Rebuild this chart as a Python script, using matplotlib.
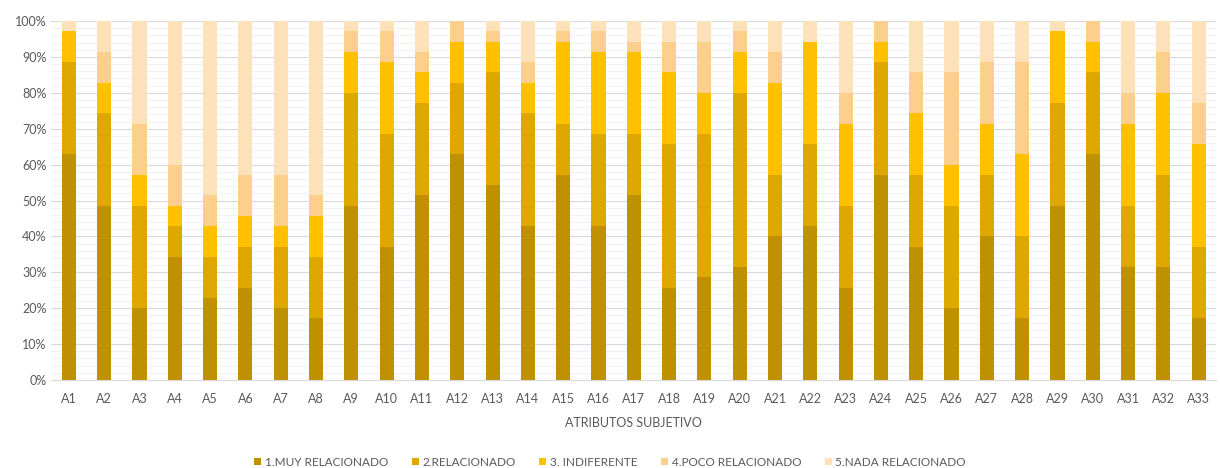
import numpy as np
import matplotlib.pyplot as plt
from matplotlib.ticker import MultipleLocator, PercentFormatter

# respuestas por atributo (35 encuestados)
atributos = ['A%d' % i for i in range(1, 34)]
muy_relacionado = [22, 17, 7, 12, 8, 9, 7, 6, 17, 13, 18, 22, 19, 15, 20, 15, 18,
                   9, 10, 11, 14, 15, 9, 20, 13, 7, 14, 6, 17, 22, 11, 11, 6]
relacionado = [9, 9, 10, 3, 4, 4, 6, 6, 11, 11, 9, 7, 11, 11, 5, 9, 6,
               14, 14, 17, 6, 8, 8, 11, 7, 10, 6, 8, 10, 8, 6, 9, 7]
indiferente = [3, 3, 3, 2, 3, 3, 2, 4, 4, 7, 3, 4, 3, 3, 8, 8, 8,
               7, 4, 4, 9, 10, 8, 2, 6, 4, 5, 8, 7, 3, 8, 8, 10]
poco_relacionado = [0, 3, 5, 4, 3, 4, 5, 2, 2, 3, 2, 2, 1, 2, 1, 2, 1,
                    3, 5, 2, 3, 0, 3, 2, 4, 9, 6, 9, 0, 2, 3, 4, 4]
nada_relacionado = [1, 3, 10, 14, 17, 15, 15, 17, 1, 1, 3, 0, 1, 4, 1, 1, 2,
                    2, 2, 1, 3, 2, 7, 0, 5, 5, 4, 4, 1, 0, 7, 3, 8]

series = [muy_relacionado, relacionado, indiferente, poco_relacionado, nada_relacionado]
nombres = ['1.MUY RELACIONADO', '2.RELACIONADO', '3. INDIFERENTE',
           '4.POCO RELACIONADO', '5.NADA RELACIONADO']
colores = ['#BF9000', '#DFA800', '#FFC000', '#FDCF8C', '#FDE1B8']

plt.rcParams['font.family'] = ['Lato', 'DejaVu Sans']

data = np.array(series, dtype=float)
data = data / data.sum(axis=0)

fig = plt.figure(figsize=(12.2, 4.68), dpi=100)
ax = fig.add_axes([0.042, 0.188, 0.955, 0.767])

x = np.arange(len(atributos))
bottom = np.zeros(len(atributos))
for vals, nombre, color in zip(data, nombres, colores):
    ax.bar(x, vals, 0.4, bottom=bottom, color=color, label=nombre, zorder=3)
    bottom += vals

ax.set_xlim(-0.5, len(atributos) - 0.5)
ax.set_ylim(0, 1)
ax.yaxis.set_major_locator(MultipleLocator(0.1))
ax.yaxis.set_minor_locator(MultipleLocator(0.02))
ax.yaxis.set_major_formatter(PercentFormatter(1.0, decimals=0))
ax.grid(axis='y', which='major', color='#D9D9D9', linewidth=0.8, zorder=0)
ax.grid(axis='y', which='minor', color='#F2F2F2', linewidth=0.8, zorder=0)
ax.set_xticks(x)
ax.set_xticklabels(atributos)
ax.tick_params(axis='both', which='both', length=0, colors='#595959', labelsize=9)
ax.tick_params(axis='x', pad=9)
for s in ['top', 'right', 'left']:
    ax.spines[s].set_visible(False)
ax.spines['bottom'].set_color('#D9D9D9')
ax.set_xlabel('ATRIBUTOS SUBJETIVO', color='#595959', fontsize=9, labelpad=9)

fig.legend(loc='lower center', bbox_to_anchor=(0.5, -0.022), ncol=5, frameon=False,
           fontsize=8.5, handlelength=0.6, handleheight=0.6, handletextpad=0.3,
           columnspacing=2.0, labelcolor='#595959')

fig.savefig('out.png', dpi=100, facecolor='white')
